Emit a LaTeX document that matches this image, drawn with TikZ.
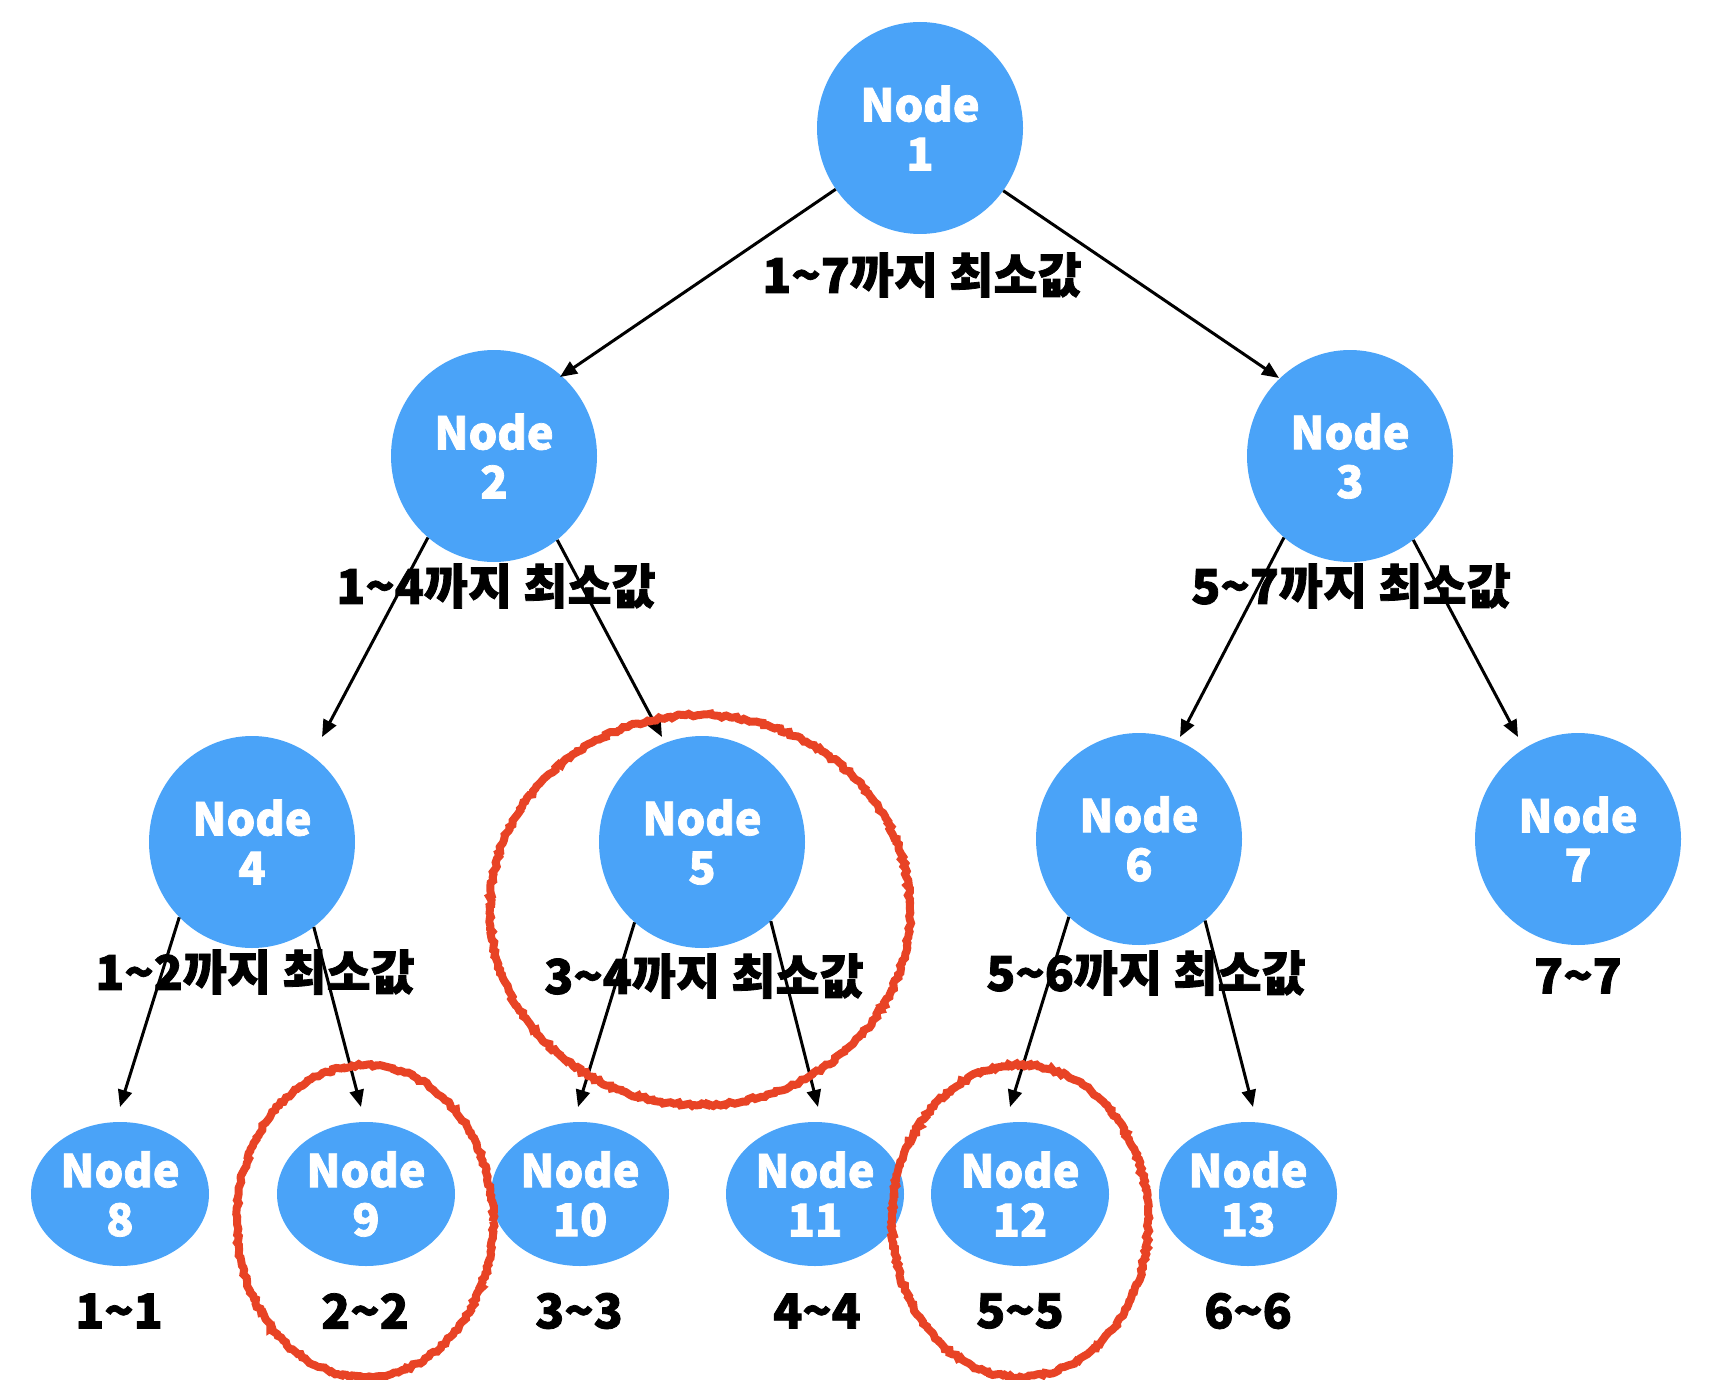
\documentclass[tikz,border=0pt]{standalone}
\usepackage{fontspec}
\setmainfont{Noto Sans CJK KR}[UprightFont=* Black, FakeBold=1.6]
\usetikzlibrary{arrows.meta,decorations.pathmorphing,shapes.geometric}
\definecolor{nodeblue}{HTML}{4AA3F8}
\definecolor{markred}{HTML}{E84325}
\begin{document}
\begin{tikzpicture}[x=1pt,y=-1pt,
  bignode/.style={ellipse,fill=nodeblue,minimum width=206pt,minimum height=212pt,inner sep=0pt,
    text=white,align=center,font=\fontsize{45}{49}\selectfont},
  smallnode/.style={ellipse,fill=nodeblue,minimum width=178pt,minimum height=144pt,inner sep=0pt,
    text=white,align=center,font=\fontsize{45}{49}\selectfont},
  lbl/.style={text=black,inner sep=0pt,font=\fontsize{48}{50}\selectfont},
  edge/.style={line width=3pt,-{Triangle[length=17pt,width=14pt]}},
  redmark/.style={draw=markred,line width=8pt,decorate,decoration={random steps,segment length=3pt,amplitude=1.5pt}}
]
\useasboundingbox (0,0) rectangle (1734,1380);
% nodes
\node[bignode] (n1) at (920,128) {Node\\1};
\node[bignode] (n2) at (494,456) {Node\\2};
\node[bignode] (n3) at (1350,456) {Node\\3};
\node[bignode] (n4) at (252,842) {Node\\4};
\node[bignode] (n5) at (702,842) {Node\\5};
\node[bignode] (n6) at (1139,839) {Node\\6};
\node[bignode] (n7) at (1578,839) {Node\\7};
\node[smallnode] (n8) at (120,1194) {Node\\8};
\node[smallnode] (n9) at (366,1194) {Node\\9};
\node[smallnode] (n10) at (580,1194) {Node\\10};
\node[smallnode] (n11) at (815,1194) {Node\\11};
\node[smallnode] (n12) at (1020,1194) {Node\\12};
\node[smallnode] (n13) at (1248,1194) {Node\\13};
% labels
\node[lbl] (l1) at (922,275) {1\char`~7까지 최소값};
\node[lbl] (l2) at (496,586) {1\char`~4까지 최소값};
\node[lbl] (l3) at (1351,586) {5\char`~7까지 최소값};
\node[lbl] (l4) at (255,972) {1\char`~2까지 최소값};
\node[lbl] (l5) at (704,976) {3\char`~4까지 최소값};
\node[lbl] (l6) at (1146,973) {5\char`~6까지 최소값};
\node[lbl] (l7) at (1578,976) {7\char`~7};
\node[lbl] (l8) at (119,1311) {1\char`~1};
\node[lbl] (l9) at (365,1311) {2\char`~2};
\node[lbl] (l10) at (579,1311) {3\char`~3};
\node[lbl] (l11) at (817,1311) {4\char`~4};
\node[lbl] (l12) at (1020,1311) {5\char`~5};
\node[lbl] (l13) at (1248,1311) {6\char`~6};
% arrow end points
\coordinate (e2) at (560,377);
\coordinate (e3) at (1279,378);
\coordinate (e4) at (322,737);
\coordinate (e5) at (662,737);
\coordinate (e6) at (1180,737);
\coordinate (e7) at (1518,737);
\coordinate (e8) at (120,1107);
\coordinate (e9) at (361,1107);
\coordinate (e10) at (578,1107);
\coordinate (e11) at (818,1107);
\coordinate (e12) at (1010,1107);
\coordinate (e13) at (1253,1107);
% connectors
\draw[edge] (n1.216) -- (e2);
\draw[edge] (n1.323) -- (e3);
\draw[edge] (n2.231) -- (e4);
\draw[edge] (n2.307) -- (e5);
\draw[edge] (n3.231) -- (e6);
\draw[edge] (n3.307) -- (e7);
\draw[edge] (n4.226) -- (e8);
\draw[edge] (n4.306) -- (e9);
\draw[edge] (n5.230) -- (e10);
\draw[edge] (n5.311) -- (e11);
\draw[edge] (n6.228) -- (e12);
\draw[edge] (n6.309) -- (e13);
% red marks
\pgfmathsetseed{7}
\draw[redmark] (700,910) ellipse [x radius=210, y radius=195];
\draw[redmark] (365,1221) ellipse [x radius=128, y radius=156];
\draw[redmark] (1020,1221) ellipse [x radius=128, y radius=156];
\end{tikzpicture}
\end{document}
